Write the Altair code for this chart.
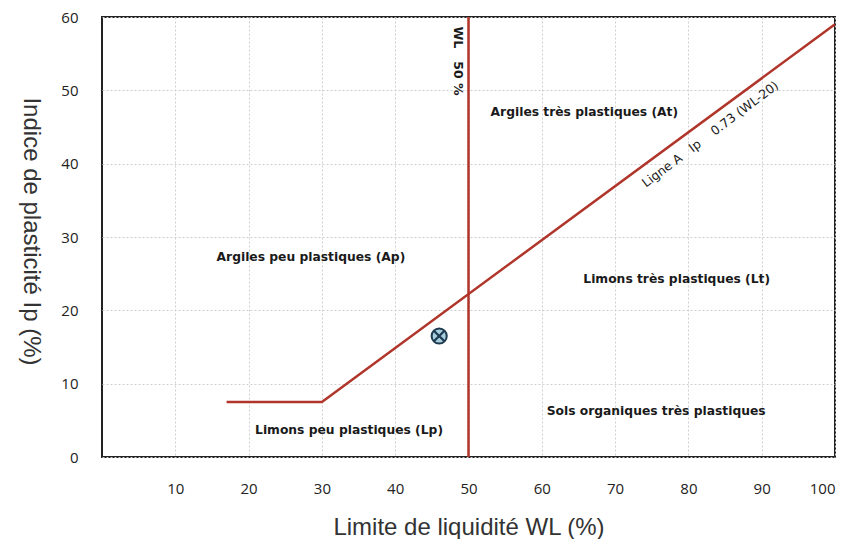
import altair as alt
import pandas as pd

# A-line (Ligne A) vertices
aline_wl = [17, 30, 100]
aline_ip = [7.5, 7.5, 59]

# Vertical WL = 50 % line
wl50_wl = [50]
wl50_ip_start = [0]
wl50_ip_end = [60]

# Sample point
sample_wl = [46]
sample_ip = [16.5]

# Zone labels
zone_text = [
    "Argiles très plastiques (At)",
    "Argiles peu plastiques (Ap)",
    "Limons très plastiques (Lt)",
    "Sols organiques très plastiques",
    "Limons peu plastiques (Lp)",
]
zone_wl = [65.8, 28.5, 78.4, 75.6, 33.7]
zone_ip = [47.0, 27.3, 24.3, 6.3, 3.7]

NB = "\u00a0"
wl_label_text = ["WL" + NB * 3 + "50 %"]
wl_label_wl = [48.6]
wl_label_ip = [54]

aline_label_text = ["Ligne A" + NB * 3 + "Ip" + NB * 4 + "0.73 (WL-20)"]
aline_label_wl = [83.0]
aline_label_ip = [44.0]

x_ticks = [10, 20, 30, 40, 50, 60, 70, 80, 90, 100]
y_ticks = [0, 10, 20, 30, 40, 50, 60]

RED = "#b0352a"
TICKFONT = "Open Sans"
TITLEFONT = "Liberation Sans"
ANNFONT = "DejaVu Sans"

xs = alt.Scale(domain=[0, 100], nice=False, zero=True)
ys = alt.Scale(domain=[0, 60], nice=False, zero=True)

x_axis = alt.Axis(
    values=x_ticks, title="Limite de liquidité WL (%)", grid=True,
    gridColor="#cfcfcf", gridDash=[2, 2], gridWidth=1,
    ticks=False, domain=False, labelPadding=24, labelFontSize=15,
    labelFont=TICKFONT, labelColor="#222", titleFont=TITLEFONT, titleFontSize=24,
    titleFontWeight="normal", titleColor="#333", titleY=70,
    titleBaseline="middle",
)
y_axis = alt.Axis(
    values=y_ticks, title="Indice de plasticité Ip (%)", grid=True,
    gridColor="#cfcfcf", gridDash=[2, 2], gridWidth=1,
    ticks=False, domain=False, labelPadding=24, labelFontSize=15,
    labelFont=TICKFONT, labelColor="#222", titleFont=TITLEFONT, titleFontSize=24,
    titleFontWeight="normal", titleColor="#333", titleAngle=90,
    titleX=-72, titleY=214, titleAlign="center", titleBaseline="middle",
)

aline_df = pd.DataFrame({"wl": aline_wl, "ip": aline_ip})
base_line = alt.Chart(aline_df).mark_line(color=RED, strokeWidth=2.5).encode(
    x=alt.X("wl:Q", scale=xs, axis=x_axis),
    y=alt.Y("ip:Q", scale=ys, axis=y_axis),
)

wl50_df = pd.DataFrame({"wl": wl50_wl, "y1": wl50_ip_start, "y2": wl50_ip_end})
vline = alt.Chart(wl50_df).mark_rule(color=RED, strokeWidth=2.5).encode(
    x=alt.X("wl:Q", scale=xs), y=alt.Y("y1:Q", scale=ys), y2="y2:Q"
)

sample_df = pd.DataFrame({"wl": sample_wl, "ip": sample_ip})
circle = alt.Chart(sample_df).mark_point(
    shape="circle", size=230, filled=True, fill="#a8cfe0",
    stroke="#1e3a4f", strokeWidth=2, opacity=1,
).encode(x=alt.X("wl:Q", scale=xs), y=alt.Y("ip:Q", scale=ys))
cross = alt.Chart(sample_df).mark_point(
    shape="M-0.7,-0.7L0.7,0.7M-0.7,0.7L0.7,-0.7", size=230,
    stroke="#1e3a4f", strokeWidth=2.2, filled=False, opacity=1,
).encode(x=alt.X("wl:Q", scale=xs), y=alt.Y("ip:Q", scale=ys))

zone_df = pd.DataFrame({"t": zone_text, "wl": zone_wl, "ip": zone_ip})
zones = alt.Chart(zone_df).mark_text(
    font=ANNFONT, fontSize=12.3, fontWeight="bold", color="#1a1a1a",
    align="center", baseline="middle",
).encode(x=alt.X("wl:Q", scale=xs), y=alt.Y("ip:Q", scale=ys), text="t:N")

wl_df = pd.DataFrame({"t": wl_label_text, "wl": wl_label_wl, "ip": wl_label_ip})
wl_lab = alt.Chart(wl_df).mark_text(
    font=ANNFONT, fontSize=12.5, fontWeight="bold", color="#1a1a1a", angle=90,
    align="center", baseline="middle",
).encode(x=alt.X("wl:Q", scale=xs), y=alt.Y("ip:Q", scale=ys), text="t:N")

al_df = pd.DataFrame({"t": aline_label_text, "wl": aline_label_wl, "ip": aline_label_ip})
al_lab = alt.Chart(al_df).mark_text(
    font=ANNFONT, fontSize=12.5, color="#1a1a1a", angle=323, align="center",
    baseline="middle",
).encode(x=alt.X("wl:Q", scale=xs), y=alt.Y("ip:Q", scale=ys), text="t:N")

chart = alt.layer(base_line, vline, zones, wl_lab, al_lab, circle, cross).properties(
    width=733, height=440,
    autosize=alt.AutoSizeParams(type="none"),
    padding={"left": 94, "top": 9, "right": 16, "bottom": 82},
    background="white",
).configure_view(stroke="#222", strokeWidth=2)

chart.save("out.html", embed_options={"renderer": "svg", "actions": False})
